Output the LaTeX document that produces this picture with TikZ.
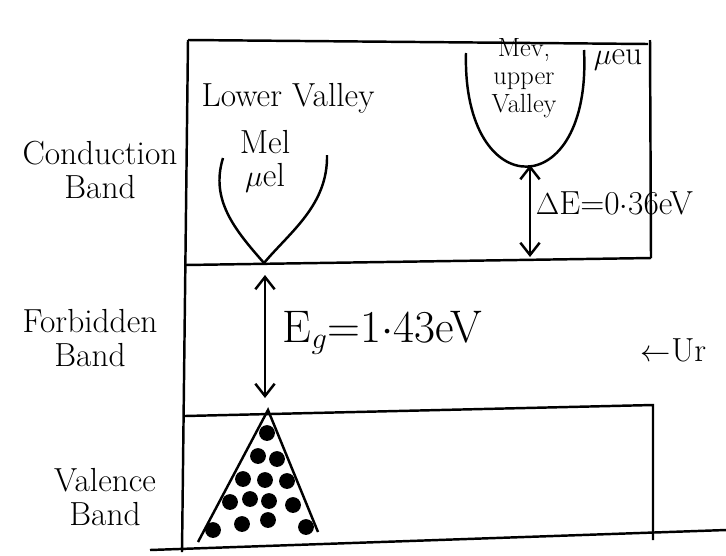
\documentclass[tikz,border=0pt]{standalone}
\usepackage{tikz}
\usetikzlibrary{arrows.meta,positioning,calc}

\begin{document}
\begin{tikzpicture}[x=0.02cm,y=-0.02cm,line width=1.4pt,
   >={Straight Barb[length=7pt,width=11pt]},
   every node/.style={inner sep=1pt},
   lbl/.style={font=\fontsize{19}{21}\selectfont,align=center},
   sml/.style={font=\fontsize{15}{16}\selectfont,align=center},
   big/.style={font=\fontsize{26}{28}\selectfont},
   elec/.style={fill=black,circle,minimum size=9pt,inner sep=0pt}]
  \useasboundingbox (0,0) rectangle (726,555);
  % band edges
  \coordinate (TL) at (188,40);
  \coordinate (TR) at (648,44);
  \coordinate (CR) at (650,40);
  \coordinate (CBL) at (185,265);
  \coordinate (CBR) at (651,258);
  \coordinate (VTL) at (185,416);
  \coordinate (VTR) at (653,405);
  \coordinate (VBR) at (653,540);
  \coordinate (BL) at (182,552);
  \coordinate (BS) at (150,550);
  \coordinate (BE) at (726,530);
  \draw (TL) -- (TR);
  \draw (CR) -- (CBR);
  \draw (CBL) -- (CBR);
  \draw (VTL) -- (VTR) -- (VBR);
  \draw (TL) -- (BL);
  \draw (BS) -- (BE);
  % valleys
  \coordinate (lvmin) at (264,263);
  \coordinate (uvmin) at (530,158);
  \draw (223,158) .. controls (210,200) and (235,230) .. (lvmin);
  \draw (327,155) .. controls (328,205) and (290,232) .. (lvmin);
  \draw (466,53) .. controls (462,205) and (592,205) .. (584,50);
  % valence band triangle
  \coordinate (apex) at (268,410);
  \draw (198,542) -- (apex) -- (318,532);
  \foreach \p [count=\i] in {(267,433),(258,456),(277,459),(243,479),(265,480),
      (287,481),(230,502),(250,499),(269,501),(293,505),(213,530),(242,524),
      (268,520),(306,527)}
    \node[elec] (e\i) at \p {};
  % labels
  \node[lbl] (cb) at (100,170) {Conduction\\[-2pt]Band};
  \node[lbl] (fb) at (90,338) {Forbidden\\[-2pt]Band};
  \node[lbl] (vb) at (105,497) {Valence\\[-2pt]Band};
  \node[lbl] (lv) at (288,98) {Lower Valley};
  \node[lbl] (mel) at (265,142) {Mel};
  \node[lbl] (muel) at (265,178) {$\mu$el};
  \node[sml] (uv) at (524,78) {Mev,\\upper\\Valley};
  \node[lbl] (mueu) at (618,60) {$\mu$eu};
  \coordinate (eg1) at (265,275);
  \coordinate (eg2) at (265,398);
  \coordinate (de1) at (530,165);
  \coordinate (de2) at (530,257);
  \draw[<->] (eg1) -- (eg2);
  \draw[<->] (de1) -- (de2);
  \node[big,anchor=west] (eg) at (280,333) {E$_g$=1$\cdot$43eV};
  \node[lbl,anchor=west] (de) at (533,203) {$\Delta$E=0$\cdot$36eV};
  \node[lbl,anchor=west] (ur) at (638,350) {$\leftarrow$Ur};
\end{tikzpicture}
\end{document}
